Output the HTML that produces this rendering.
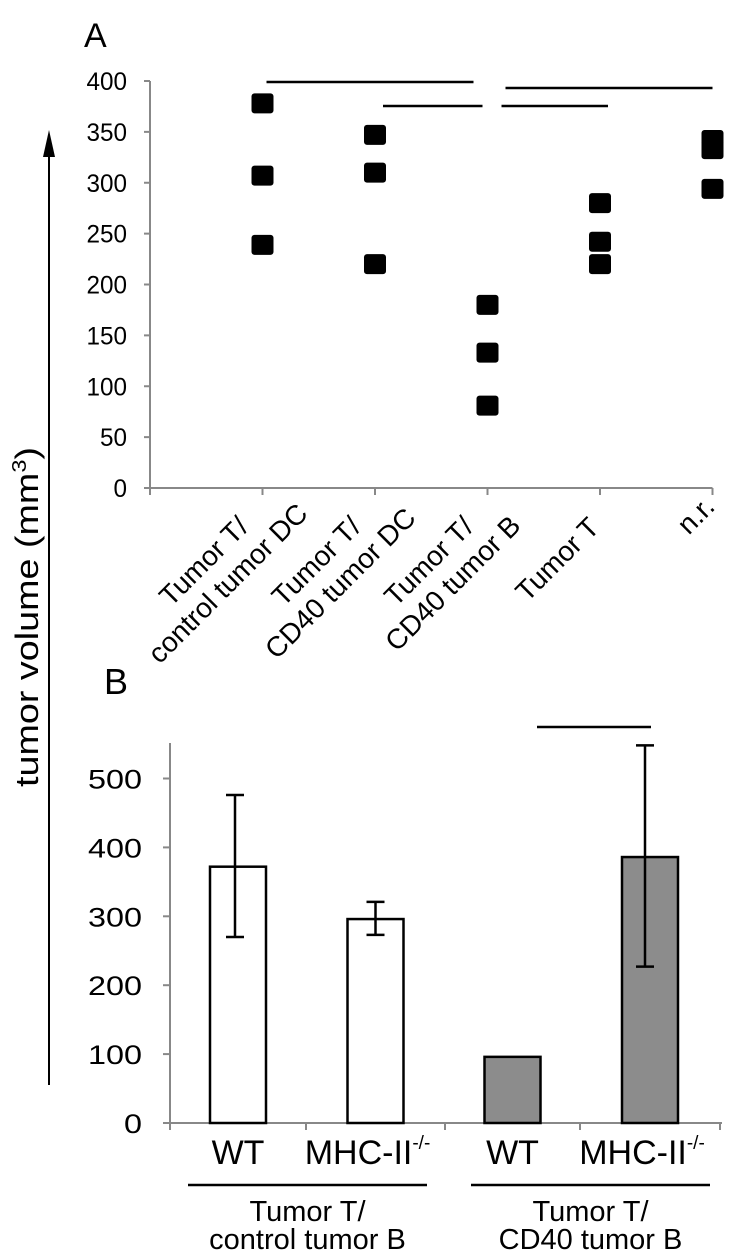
<!DOCTYPE html>
<html><head><meta charset="utf-8"><style>
html,body{margin:0;padding:0;background:#fff;}
svg{display:block;font-family:"Liberation Sans",Arial,sans-serif;}
</style></head><body>
<svg id="fig" width="733" height="1256" viewBox="0 0 733 1256">
<text x="84" y="47" font-size="34">A</text>
<text x="104" y="694" font-size="36">B</text>
<g>
<line x1="49" y1="1085" x2="49" y2="155" stroke="#000" stroke-width="2"/>
<polygon points="49,130 43,157 55,157" fill="#000"/>
<text x="0" y="0" font-size="32" text-anchor="middle" textLength="340" lengthAdjust="spacingAndGlyphs" transform="translate(38,617) rotate(-90)">tumor volume (mm<tspan font-size="20" dy="-12">3</tspan><tspan dy="12">)</tspan></text>
</g>
<g id="panelA"></g>
<g id="panelB"></g>
</svg>
<script>
// Panel A data
const aCategories = [["Tumor T/","control tumor DC"],["Tumor T/","CD40 tumor DC"],["Tumor T/","CD40 tumor B"],["Tumor T"],["n.r."]];
const aValues = [[378,307,239],[347,310,220],[180,133,81],[280,242,220],[342,333,294]];
const aTicks = [0,50,100,150,200,250,300,350,400];
// Panel B data
const bCategories = ["WT","MHC-II","WT","MHC-II"];
const bValues = [372,296,96,386];
const bErrLow = [270,273,null,227];
const bErrHigh = [476,321,null,548];
const bTicks = [0,100,200,300,400,500];
const bGroups = ["Tumor T/|control tumor B","Tumor T/|CD40 tumor B"];

const NS="http://www.w3.org/2000/svg";
function mk(parent,tag,attrs,text){const e=document.createElementNS(NS,tag);for(const k in attrs)e.setAttribute(k,attrs[k]);if(text!==undefined)e.textContent=text;parent.appendChild(e);return e;}

// ----- Panel A -----
const A=document.getElementById('panelA');
const aX0=150,aStep=112.5,aY0=488,aYTop=81,aMax=400;
const ay=v=>aY0-(v/aMax)*(aY0-aYTop);
const ax=i=>aX0+aStep*(i+1);
let el=mk(A,'line',{x1:aX0,y1:aYTop,x2:aX0,y2:aY0,stroke:'#888','stroke-width':2});


el=mk(A,'line',{x1:aX0-6,y1:aY0,x2:ax(aCategories.length-1),y2:aY0,stroke:'#888','stroke-width':2});


aTicks.forEach(t=>{
  let l=mk(A,'line',{x1:aX0-6,y1:ay(t),x2:aX0,y2:ay(t),stroke:'#888','stroke-width':2});
  
  
  const s=String(t);
  let tx=mk(A,'text',{x:127,y:ay(t)+9,'font-size':25,'text-anchor':'end',textLength:s.length*13.5,lengthAdjust:'spacingAndGlyphs'},s);
  
  
});
for(let i=-1;i<aCategories.length;i++){
  let l=mk(A,'line',{x1:ax(i),y1:aY0,x2:ax(i),y2:aY0+7,stroke:'#888','stroke-width':2});
  
  
}
aValues.forEach((vals,i)=>{
  vals.forEach(v=>{
    let r=mk(A,'rect',{x:ax(i)-11,y:ay(v)-10,width:22,height:20,rx:3,fill:'#000'});
    
    
  });
});
aCategories.forEach((lines,i)=>{
  const g=mk(A,'g',{});
  
  
  const fs=28;
  if(lines.length===2){
    mk(g,'text',{x:0,y:0,'font-size':fs,'text-anchor':'middle',transform:`translate(${ax(i)-52},${aY0+80}) rotate(-45)`},lines[0]);
    mk(g,'text',{x:0,y:0,'font-size':fs,'text-anchor':'middle',transform:`translate(${ax(i)-28},${aY0+102}) rotate(-45)`},lines[1]);
  } else if(lines[0]==='n.r.'){
    mk(g,'text',{x:0,y:0,'font-size':fs,'text-anchor':'middle',transform:`translate(${ax(i)-10},${aY0+34}) rotate(-45)`},lines[0]);
  } else {
    mk(g,'text',{x:0,y:0,'font-size':fs,'text-anchor':'middle',transform:`translate(${ax(i)-36},${aY0+78}) rotate(-45)`},lines[0]);
  }
});
const sigLines=[[ax(0)+4,ax(2)-14,82],[ax(1)+8,ax(2)-5,106],[ax(2)+14,ax(3)+8,106],[ax(2)+18,ax(4),88]];
sigLines.forEach(s=>{
  let l=mk(A,'line',{x1:s[0],y1:s[2],x2:s[1],y2:s[2],stroke:'#000','stroke-width':2.5});
  
  
});

// ----- Panel B -----
const B=document.getElementById('panelB');
const bX0=170,bY0=1123,b500=778.5,bTop=743;
const by=v=>bY0-(v/500)*(bY0-b500);
const bTickX=[170,306,445,580,720];
const bx=i=>(bTickX[i]+bTickX[i+1])/2;
el=mk(B,'line',{x1:bX0,y1:bTop,x2:bX0,y2:bY0,stroke:'#888','stroke-width':2});


el=mk(B,'line',{x1:bX0-7,y1:bY0,x2:722,y2:bY0,stroke:'#888','stroke-width':2});


bTicks.forEach(t=>{
  let l=mk(B,'line',{x1:bX0-7,y1:by(t),x2:bX0,y2:by(t),stroke:'#888','stroke-width':2});
  
  
  const s=String(t);
  let tx=mk(B,'text',{x:142,y:by(t)+10,'font-size':27,'text-anchor':'end',textLength:s.length*18,lengthAdjust:'spacingAndGlyphs'},s);
  
  
});
bTickX.forEach(x=>{
  let l=mk(B,'line',{x1:x,y1:bY0,x2:x,y2:bY0+7,stroke:'#888','stroke-width':2});
  
  
});
bValues.forEach((v,i)=>{
  let r=mk(B,'rect',{x:bx(i)-28,y:by(v),width:56,height:bY0-by(v),fill:i<2?'#fff':'#8c8c8c',stroke:'#000','stroke-width':2.5});
  
  
  if(bErrLow[i]!==null){
    const cx=bx(i)+(i===0?-3:0)+(i===3?-5:0);
    const g=mk(B,'g',{stroke:'#000','stroke-width':2.5});
    
    
    mk(g,'line',{x1:cx,y1:by(bErrLow[i]),x2:cx,y2:by(bErrHigh[i])});
    mk(g,'line',{x1:cx-9,y1:by(bErrLow[i]),x2:cx+9,y2:by(bErrLow[i])});
    mk(g,'line',{x1:cx-9,y1:by(bErrHigh[i]),x2:cx+9,y2:by(bErrHigh[i])});
  }
  const isWT=bCategories[i]==='WT';
  const t=mk(B,'text',{x:bx(i)-(isWT?0:8),y:1164,'font-size':34,'text-anchor':'middle'},bCategories[i]);
  
  
  if(!isWT){mk(t,'tspan',{'font-size':19,dy:-15},'-/-');}
});
el=mk(B,'line',{x1:537,y1:727,x2:651,y2:727,stroke:'#000','stroke-width':2.5});


const gl=[[188,427],[471,710]];
bGroups.forEach((gtxt,k)=>{
  const parts=gtxt.split('|');
  const g=mk(B,'g',{});
  
  
  mk(g,'line',{x1:gl[k][0],y1:1185,x2:gl[k][1],y2:1185,stroke:'#000','stroke-width':2.5});
  const cx=(gl[k][0]+gl[k][1])/2;
  mk(g,'text',{x:cx,y:1221,'font-size':29,'text-anchor':'middle'},parts[0]);
  mk(g,'text',{x:cx,y:1249,'font-size':29,'text-anchor':'middle'},parts[1]);
});
</script>
</body></html>
